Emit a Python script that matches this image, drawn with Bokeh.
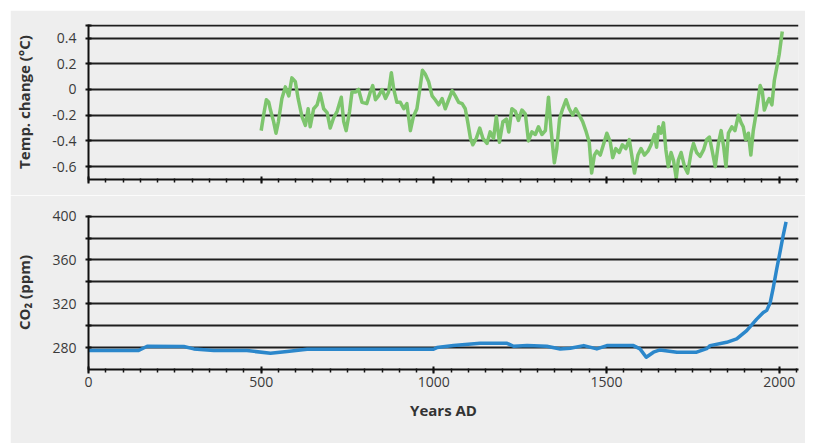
from bokeh.plotting import figure
from bokeh.layouts import column
from bokeh.models import FixedTicker, CustomJSTickFormatter, Range1d
from bokeh.embed import file_html
from bokeh.resources import INLINE

# ---------------- data ----------------
years_temp = [500, 507, 515, 522, 527, 536, 543, 550, 560, 570, 580, 589, 599, 607, 618, 628, 636, 642,
              652, 662, 671, 681, 691, 700, 710, 720, 732, 739, 746, 756, 763, 773, 782, 792, 806, 816,
              823, 831, 840, 850, 860, 869, 877, 884, 893, 903, 913, 922, 932, 941, 951, 961, 967, 975,
              985, 995, 1004, 1014, 1024, 1033, 1043, 1053, 1062, 1072, 1082, 1091, 1098, 1106, 1113,
              1123, 1133, 1142, 1154, 1163, 1173, 1181, 1190, 1200, 1210, 1217, 1226, 1236, 1245, 1255,
              1265, 1274, 1284, 1294, 1303, 1313, 1323, 1332, 1340, 1349, 1356, 1364, 1373, 1383, 1392,
              1402, 1411, 1421, 1431, 1440, 1450, 1457, 1465, 1472, 1482, 1491, 1501, 1511, 1518, 1527,
              1537, 1546, 1556, 1566, 1573, 1581, 1591, 1600, 1610, 1620, 1629, 1639, 1645, 1651, 1658,
              1665, 1672, 1679, 1687, 1694, 1702, 1708, 1716, 1726, 1735, 1745, 1752, 1761, 1771, 1781,
              1790, 1798, 1807, 1815, 1824, 1832, 1839, 1846, 1853, 1863, 1872, 1882, 1890, 1896, 1903,
              1911, 1918, 1925, 1933, 1940, 1945, 1951, 1957, 1964, 1971, 1979, 1986, 1993, 2000, 2006,
              2009]
temp_change = [-0.32, -0.20, -0.08, -0.10, -0.16, -0.25, -0.34, -0.25, -0.07, 0.02, -0.05, 0.09, 0.06,
               -0.07, -0.21, -0.28, -0.15, -0.29, -0.15, -0.12, -0.03, -0.15, -0.18, -0.30, -0.22, -0.17,
               -0.06, -0.25, -0.32, -0.17, -0.02, -0.02, 0.00, -0.10, -0.11, -0.02, 0.03, -0.08, -0.05,
               0.00, -0.07, -0.02, 0.13, 0.00, -0.10, -0.10, -0.15, -0.11, -0.32, -0.21, -0.15, 0.03, 0.15,
               0.12, 0.06, -0.05, -0.08, -0.12, -0.07, -0.15, -0.08, -0.01, -0.05, -0.10, -0.11, -0.15,
               -0.25, -0.38, -0.43, -0.38, -0.30, -0.38, -0.42, -0.33, -0.38, -0.21, -0.41, -0.25, -0.23,
               -0.33, -0.15, -0.17, -0.24, -0.16, -0.19, -0.40, -0.33, -0.35, -0.29, -0.35, -0.32, -0.06,
               -0.33, -0.57, -0.46, -0.23, -0.15, -0.08, -0.15, -0.20, -0.15, -0.20, -0.25, -0.32, -0.41,
               -0.65, -0.51, -0.48, -0.51, -0.43, -0.34, -0.41, -0.53, -0.46, -0.49, -0.43, -0.46, -0.39,
               -0.51, -0.65, -0.51, -0.46, -0.51, -0.48, -0.43, -0.35, -0.45, -0.29, -0.34, -0.26, -0.47,
               -0.60, -0.49, -0.55, -0.69, -0.55, -0.49, -0.60, -0.65, -0.49, -0.42, -0.49, -0.52, -0.47,
               -0.39, -0.37, -0.49, -0.60, -0.42, -0.32, -0.44, -0.60, -0.34, -0.29, -0.32, -0.20, -0.26,
               -0.29, -0.39, -0.34, -0.51, -0.32, -0.19, -0.06, 0.03, -0.01, -0.16, -0.11, -0.07, -0.12,
               0.07, 0.17, 0.27, 0.39, 0.45]

years_co2 = [0, 145, 170, 276, 305, 363, 459, 527, 575, 633, 999, 1009, 1057, 1134, 1212, 1231, 1270,
             1327, 1366, 1395, 1434, 1472, 1501, 1578, 1597, 1615, 1636, 1655, 1704, 1761, 1790, 1800,
             1848, 1877, 1906, 1935, 1954, 1964, 1974, 1983, 1993, 2003, 2012, 2020]
co2_ppm = [277.3, 277.3, 281.2, 281.0, 278.8, 277.3, 277.3, 274.8, 276.5, 278.5, 278.5, 280.0, 282.0,
           283.9, 283.9, 281.2, 281.8, 281.2, 278.8, 279.4, 281.8, 278.8, 281.8, 281.8, 278.8, 271.2,
           275.8, 277.9, 275.8, 275.8, 279.0, 281.8, 284.8, 287.9, 295.5, 306.0, 312.0, 314.0, 321.0,
           334.8, 352.0, 368.0, 383.0, 394.8]

x_ticks = [0, 500, 1000, 1500, 2000]
x_minor_ticks = list(range(0, 2051, 50))
temp_ticks = [-0.6, -0.4, -0.2, 0, 0.2, 0.4, 0.5]
co2_ticks = [280, 300, 320, 340, 360, 380, 400]

# ---------------- style ----------------
BG = "#eeeeee"
W = 795
FONT = "Open Sans"
TICK_COLOR = "#3a3a3a"
LABEL_COLOR = "#333333"
GRID = "#1e1e1e"


def style(p):
    p.background_fill_color = BG
    p.border_fill_color = BG
    p.outline_line_color = None
    p.xgrid.grid_line_color = None
    p.ygrid.grid_line_color = GRID
    p.ygrid.grid_line_width = 2
    p.min_border_left = 78
    p.min_border_right = 7
    for ax in (p.xaxis[0], p.yaxis[0]):
        ax.axis_line_color = "#111111"
        ax.axis_line_width = 2
        ax.major_tick_line_color = "#111111"
        ax.major_tick_line_width = 2
        ax.minor_tick_line_color = "#111111"
        ax.minor_tick_line_width = 1.5
        ax.major_label_text_font = FONT
        ax.major_label_text_font_size = "14px"
        ax.major_label_text_color = TICK_COLOR
        ax.axis_label_text_font = FONT
        ax.axis_label_text_font_size = "15px"
        ax.axis_label_text_font_style = "bold"
        ax.axis_label_text_color = LABEL_COLOR
    p.yaxis[0].major_tick_in = 3
    p.yaxis[0].major_tick_out = 3
    p.yaxis[0].minor_tick_in = 0
    p.yaxis[0].minor_tick_out = 0
    p.yaxis[0].major_label_standoff = 9
    p.yaxis[0].axis_label_standoff = 15
    p.xaxis[0].ticker = FixedTicker(ticks=x_ticks, minor_ticks=x_minor_ticks)
    p.xaxis[0].major_tick_in = 3
    p.xaxis[0].major_tick_out = 4
    p.xaxis[0].minor_tick_in = 1
    p.xaxis[0].minor_tick_out = 3


# top panel: temperature
p1 = figure(width=W, height=185, output_backend="svg", toolbar_location=None,
            x_range=Range1d(0, 2056), y_range=Range1d(-0.7, 0.505))
style(p1)
p1.min_border_top = 14
p1.min_border_bottom = 16
p1.yaxis[0].ticker = FixedTicker(ticks=temp_ticks)
p1.yaxis[0].formatter = CustomJSTickFormatter(
    code="if (tick > 0.45) return ''; if (Math.abs(tick) < 1e-9) return '0'; return tick.toFixed(1);")
p1.yaxis[0].axis_label = "Temp. change (°C)"
p1.xaxis[0].formatter = CustomJSTickFormatter(code="return '';")
p1.xaxis[0].major_label_text_font_size = "0px"
p1.line(years_temp, temp_change, line_color="#7dc56d", line_width=3.5, line_join="round")

# bottom panel: CO2
p2 = figure(width=W, height=248, output_backend="svg", toolbar_location=None,
            x_range=p1.x_range, y_range=Range1d(260, 400.6))
style(p2)
p2.min_border_top = 20
p2.min_border_bottom = 74
p2.yaxis[0].ticker = FixedTicker(ticks=co2_ticks)
p2.yaxis[0].formatter = CustomJSTickFormatter(
    code="return (Math.round(tick) % 40 == 0) ? Math.round(tick).toString() : '';")
p2.yaxis[0].axis_label = "CO\u2082 (ppm)"
p2.xaxis[0].axis_label = "Years AD"
p2.xaxis[0].major_label_standoff = 3
p2.xaxis[0].axis_label_standoff = 10
p2.line(years_co2, co2_ppm, line_color="#2b87cb", line_width=3.5, line_join="round")

layout = column(p1, p2, spacing=0, margin=(10, 0, 0, 10))
open("out.html", "w").write(file_html(layout, INLINE))
